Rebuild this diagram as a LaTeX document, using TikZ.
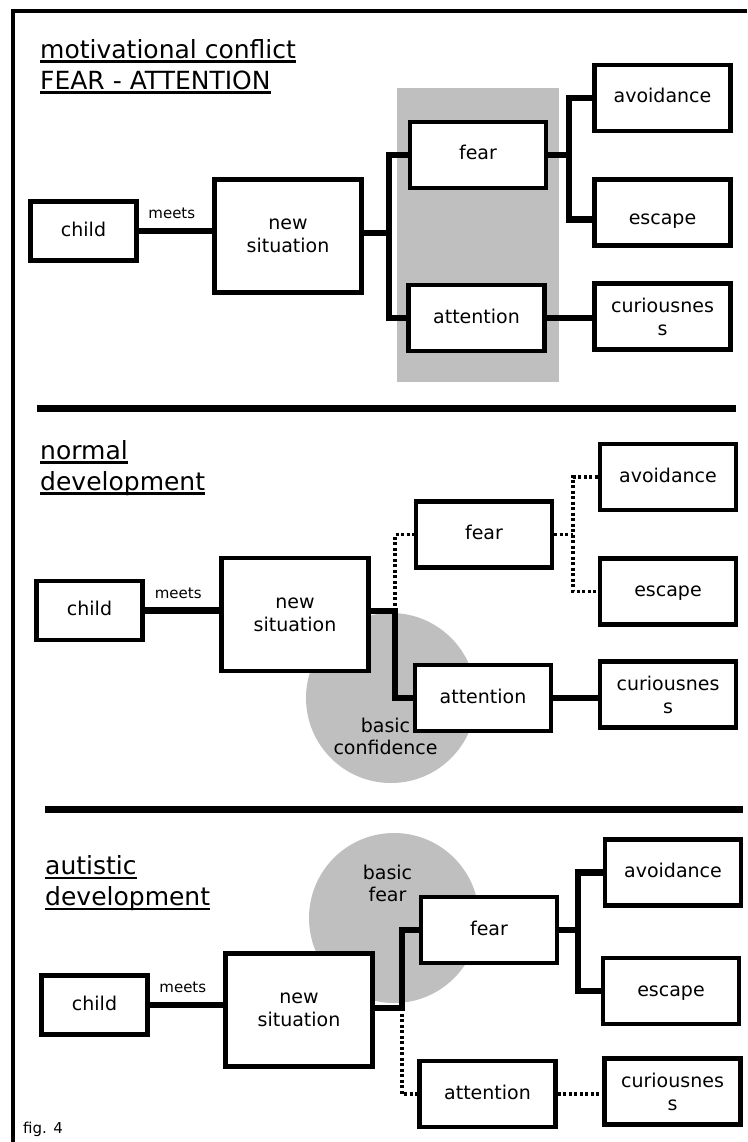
\documentclass[tikz,border=0pt]{standalone}
\usepackage{fontspec}
\setmainfont{DejaVu Sans}
\usepackage{tikz}
\usetikzlibrary{calc}
\definecolor{shadeGray}{gray}{0.75}
\newcommand{\boxfont}{\fontsize{19}{23}\selectfont}
\newcommand{\smallfont}{\fontsize{15}{18}\selectfont}
\newcommand{\headfont}{\fontsize{25}{31}\selectfont}
\newcommand{\ulin}[1]{\setbox0=\hbox{#1}\rlap{\rule[-4.5pt]{\wd0}{2.2pt}}\box0}
\tikzstyle{stateBox} = [draw, fill=white, line width=4.3pt, inner sep=1pt,
   font=\boxfont, align=center, minimum width=136pt, minimum height=66pt]
\tikzstyle{wordBox} = [stateBox, text height=14pt, text depth=4pt]
\tikzstyle{childBox} = [wordBox, minimum width=106pt, minimum height=59pt]
\tikzstyle{sitBox} = [stateBox, minimum width=147pt, minimum height=113pt]
\tikzstyle{solidLink} = [line width=6.5pt]
\tikzstyle{dotLink} = [line width=3.5pt, dash pattern=on 3pt off 2.5pt]
\tikzstyle{sepLine} = [line width=7pt]
\tikzstyle{heading} = [anchor=north west, inner sep=0pt, font=\headfont, align=left]
\tikzstyle{meetsLbl} = [above=7pt, pos=0.45, inner sep=2pt, font=\smallfont]
\tikzstyle{discText} = [inner sep=0pt, align=center, font=\fontsize{19}{22}\selectfont]

\begin{document}
\begin{tikzpicture}[x=1pt,y=-1pt] %[scale=0.8]
    \useasboundingbox (0,0) rectangle (747,1142);
    % frame and separators
    \draw [line width=4.3pt] (747,11) -- (13,11) -- (13,1142);
    \draw [sepLine] (37,408) -- (736,408);
    \draw [sepLine] (45,809) -- (743,809);
    % grey areas
    \fill [shadeGray] (397,88) rectangle (559,382);
    \fill [shadeGray] (391,698) circle (85pt);
    \fill [shadeGray] (394,918) circle (85pt);
    \node [discText] (confTxt) at (385.5,736) {basic\\confidence};
    \node [discText] (bfearTxt) at (387.5,883) {basic\\fear};
    % headings
    \node [heading] (head1) at (40,39) {\ulin{motivational conflict}\\\ulin{FEAR - ATTENTION}};
    \node [heading] (head2) at (40,440) {\ulin{normal}\\\ulin{development}};
    \node [heading] (head3) at (45,855) {\ulin{autistic}\\\ulin{development}};
    \node [anchor=base west, inner sep=0pt, font=\smallfont] (figLbl) at (23,1133) {fig. 4};
    % motivational conflict
    \node [childBox] (child1) at (83.5,231) {child};
    \node [sitBox] (sit1) at (288,236) {new\\situation};
    \node [wordBox] (fear1) at (478,155) {fear};
    \node [wordBox] (att1) at (476.5,318) {attention};
    \node [wordBox] (avo1) at (662.5,98) {avoidance};
    \node [wordBox] (esc1) at (662.5,212.5) {\raisebox{-7pt}{escape}};
    \node [stateBox] (cur1) at (662.5,316.5) {curiousnes\\s};
    \coordinate (jn1) at (389,233);
    \coordinate (jf1) at (569,155);
    \draw [solidLink] (child1.east) -- node [meetsLbl] {meets} (child1.east -| sit1.west);
    \draw [solidLink] (sit1.east |- jn1) -- (jn1);
    \draw [solidLink] (fear1.west) -| (jn1) |- (att1.west);
    \draw [solidLink] (fear1.east) -- (jf1);
    \draw [solidLink] (avo1.west) -| (jf1) |- ([yshift=-7pt]esc1.west);
    \draw [solidLink] (att1.east) -- (att1.east -| cur1.west);
    % normal development
    \node [childBox] (child2) at (89.5,610.5) {child};
    \node [sitBox] (sit2) at (295,614.5) {new\\situation};
    \node [wordBox] (fear2) at (484,534.5) {fear};
    \node [wordBox] (att2) at (483,698) {attention};
    \node [wordBox] (avo2) at (668,477) {avoidance};
    \node [wordBox] (esc2) at (668,591.5) {escape};
    \node [stateBox] (cur2) at (668,694.5) {curiousnes\\s};
    \coordinate (jn2) at (395,611);
    \coordinate (jf2) at (573,534.5);
    \draw [solidLink] (child2.east) -- node [meetsLbl] {meets} (child2.east -| sit2.west);
    \draw [dotLink] (jn2) |- (fear2.west);
    \draw [solidLink] (sit2.east |- jn2) -- (jn2) |- (att2.west);
    \draw [dotLink] (fear2.east) -- (jf2);
    \draw [dotLink] (avo2.west) -| (jf2) |- (esc2.west);
    \draw [solidLink] (att2.east) -- (att2.east -| cur2.west);
    % autistic development
    \node [childBox] (child3) at (94.5,1005) {child};
    \node [sitBox] (sit3) at (299,1010) {new\\situation};
    \node [wordBox] (fear3) at (489,930) {fear};
    \node [wordBox] (att3) at (487.5,1094) {attention};
    \node [wordBox] (avo3) at (673,872.5) {avoidance};
    \node [wordBox] (esc3) at (671,991) {escape};
    \node [stateBox] (cur3) at (672.5,1091.5) {curiousnes\\s};
    \coordinate (jn3) at (402,1008);
    \coordinate (jf3) at (578,930);
    \draw [solidLink] (child3.east) -- node [meetsLbl] {meets} (child3.east -| sit3.west);
    \draw [solidLink] (sit3.east |- jn3) -- (jn3) |- (fear3.west);
    \draw [dotLink] (jn3) |- (att3.west);
    \draw [solidLink] (fear3.east) -- (jf3);
    \draw [solidLink] (avo3.west) -| (jf3) |- (esc3.west);
    \draw [dotLink] (att3.east) -- (att3.east -| cur3.west);
  \end{tikzpicture}
\end{document}
